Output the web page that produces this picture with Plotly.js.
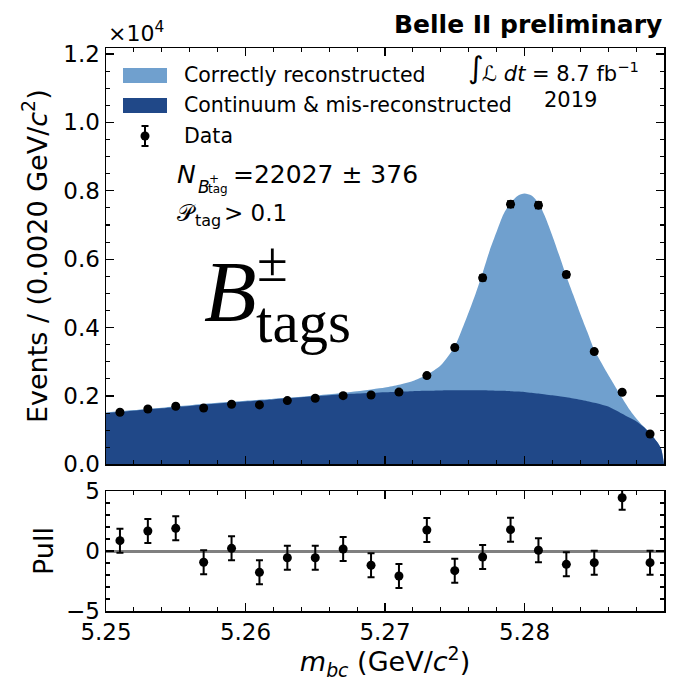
<!DOCTYPE html>
<html><head><meta charset="utf-8">
<script src="https://cdn.plot.ly/plotly-3.0.1.min.js"></script>
<style>html,body{margin:0;padding:0;background:#fff}#chart{width:673px;height:681px}</style>
</head><body><div id="chart"></div>
<script>
// ---- data ----
const binCenters = [5.251, 5.253, 5.255, 5.257, 5.259, 5.261, 5.263, 5.265, 5.267, 5.269,
                    5.271, 5.273, 5.275, 5.277, 5.279, 5.281, 5.283, 5.285, 5.287, 5.289];
const eventCounts = [1525, 1620, 1700, 1650, 1760, 1740, 1865, 1935, 2010, 2030,
                     2115, 2596, 3415, 5455, 7610, 7580, 5550, 3298, 2110, 890];
const eventErrors = [39, 40, 41, 41, 42, 42, 43, 44, 45, 45,
                     46, 51, 58, 74, 87, 87, 74, 57, 46, 30];
const pullValues = [0.86, 1.67, 1.89, -0.94, 0.22, -1.78, -0.56, -0.56, 0.17, -1.19,
                    -2.08, 1.75, -1.64, -0.50, 1.78, 0.06, -1.11, -0.97, 4.44, -0.97];
const pullErrors = [1, 1, 1, 1, 1, 1, 1, 1, 1, 1, 1, 1, 1, 1, 1, 1, 1, 1, 1, 1];

const fitX = [5.250, 5.252, 5.254, 5.256, 5.258, 5.260, 5.262, 5.264, 5.266, 5.268,
              5.270, 5.271, 5.272, 5.273, 5.274, 5.275, 5.2755, 5.276, 5.2765, 5.277,
              5.2775, 5.278, 5.2785, 5.279, 5.2795, 5.280, 5.2805, 5.281, 5.2815, 5.282,
              5.2825, 5.283, 5.2835, 5.284, 5.2845, 5.285, 5.2855, 5.286, 5.2865, 5.287,
              5.2875, 5.288, 5.2885, 5.289, 5.2895, 5.2898, 5.290];
const totalFit = [1520, 1590, 1660, 1730, 1800, 1860, 1920, 1980, 2050, 2140,
                  2250, 2330, 2440, 2620, 2900, 3450, 3930, 4450, 5000, 5600,
                  6250, 6800, 7320, 7640, 7850, 7920, 7860, 7640, 7220, 6680,
                  6100, 5500, 4950, 4400, 3880, 3350, 2980, 2620, 2280, 1940,
                  1620, 1350, 1120, 920, 660, 450, 0];
const backgroundFit = [1500, 1570, 1640, 1710, 1780, 1840, 1900, 1960, 2020, 2070,
                       2110, 2125, 2140, 2150, 2160, 2165, 2165, 2165, 2165, 2165,
                       2160, 2155, 2150, 2140, 2130, 2120, 2095, 2070, 2045, 2020,
                       1990, 1960, 1925, 1890, 1850, 1800, 1750, 1690, 1590, 1480,
                       1370, 1260, 1110, 920, 660, 450, 0];

const yTickVals = [0, 2000, 4000, 6000, 8000, 10000, 12000];
const yTickText = ['0.0', '0.2', '0.4', '0.6', '0.8', '1.0', '1.2'];
const pullTickVals = [-5, 0, 5];
const xRange = [5.25, 5.29];
const yRange = [0, 12176];
const pullRange = [-5, 5];

const legendLabels = ['Correctly reconstructed', 'Continuum & mis-reconstructed', 'Data'];

// ---- styling ----
const LIGHT = '#70a0ce', DARK = '#204888';
const FONT = 'DejaVu Sans';
const W = 673, H = 681, ML = 106, MR = 9, MT = 48, MB = 70;
const PW = W - ML - MR, PH = H - MT - MB;
const px = x => (x - ML) / PW;
const py = y => (H - MB - y) / PH;

const traces = [
  {x: fitX, y: totalFit, type: 'scatter', mode: 'lines', fill: 'tozeroy',
   fillcolor: LIGHT, line: {width: 0, color: LIGHT, shape: 'spline', smoothing: 0.7},
   xaxis: 'x', yaxis: 'y', hoverinfo: 'skip', showlegend: false},
  {x: fitX, y: backgroundFit, type: 'scatter', mode: 'lines', fill: 'tozeroy',
   fillcolor: DARK, line: {width: 0, color: DARK, shape: 'spline', smoothing: 0.7},
   xaxis: 'x', yaxis: 'y', hoverinfo: 'skip', showlegend: false},
  {x: binCenters, y: eventCounts, type: 'scatter', mode: 'markers',
   marker: {color: 'black', size: 9},
   error_y: {type: 'data', array: eventErrors, color: 'black', thickness: 2, width: 3.5},
   xaxis: 'x', yaxis: 'y', showlegend: false},
  {x: binCenters, y: pullValues, type: 'scatter', mode: 'markers',
   marker: {color: 'black', size: 9},
   error_y: {type: 'data', array: pullErrors, color: 'black', thickness: 2, width: 3.5},
   xaxis: 'x2', yaxis: 'y2', showlegend: false}
];

const axisCommon = {
  showline: true, linecolor: 'black', linewidth: 1.5, mirror: 'allticks',
  ticks: 'inside', ticklen: 8, tickwidth: 1.3, tickcolor: 'black',
  showgrid: false, zeroline: false,
  tickfont: {family: FONT, size: 23, color: 'black'}
};

const ann = [];
function addText(text, x, y, size, opts) {
  ann.push(Object.assign({text: text, x: px(x), y: py(y), xref: 'paper', yref: 'paper',
    showarrow: false, xanchor: 'left', yanchor: 'middle',
    font: {family: FONT, size: size, color: 'black'}}, opts || {}));
}
addText('×10<sup>4</sup>', 106, 32, 22);
addText('<b>Belle II preliminary</b>', 664, 25, 25, {xanchor: 'right'});
addText('∫', 466, 68, 30);
addText('ℒ <i>dt</i> = 8.7 fb<sup>−1</sup>', 480, 72, 21);
addText('2019', 570, 100, 21, {xanchor: 'center'});
addText(legendLabels[0], 182, 75, 20.5);
addText(legendLabels[1], 182, 105, 20.5);
addText(legendLabels[2], 182, 136, 20.5);
addText('<i>N</i>', 175, 174, 25);
addText('<i>B</i>', 196, 187, 17);
addText('+', 207, 179, 12);
addText('tag', 206, 189, 12);
addText('=22027 ± 376', 231, 174, 25);
addText('𝒫', 175, 213, 23);
addText('tag', 193, 221, 16);
addText('> 0.1', 222, 213, 23);
addText('<i>B</i>', 202, 292, 86, {font: {family: 'Liberation Serif', size: 86, color: 'black'}});
addText('±', 255, 262, 56, {font: {family: 'Liberation Serif', size: 56, color: 'black'}});
addText('tags', 254, 322, 59, {font: {family: 'Liberation Serif', size: 59, color: 'black'}});

const shapes = [
  {type: 'rect', xref: 'paper', yref: 'paper', x0: px(123), x1: px(167), y0: py(68), y1: py(83),
   fillcolor: LIGHT, line: {width: 0}},
  {type: 'rect', xref: 'paper', yref: 'paper', x0: px(123), x1: px(167), y0: py(98), y1: py(113),
   fillcolor: DARK, line: {width: 0}},
  {type: 'line', xref: 'paper', yref: 'paper', x0: px(145), x1: px(145), y0: py(126), y1: py(146),
   line: {color: 'black', width: 2}},
  {type: 'line', xref: 'paper', yref: 'paper', x0: px(141.5), x1: px(148.5), y0: py(126), y1: py(126),
   line: {color: 'black', width: 2}},
  {type: 'line', xref: 'paper', yref: 'paper', x0: px(141.5), x1: px(148.5), y0: py(146), y1: py(146),
   line: {color: 'black', width: 2}},
  {type: 'circle', xref: 'paper', yref: 'paper', x0: px(140.5), x1: px(149.5), y0: py(131.5), y1: py(140.5),
   fillcolor: 'black', line: {width: 0}}
];

const layout = {
  width: W, height: H,
  margin: {l: ML, r: MR, t: MT, b: MB, pad: 0},
  paper_bgcolor: 'white', plot_bgcolor: 'white',
  font: {family: FONT, color: 'black'},
  showlegend: false,
  xaxis: Object.assign({}, axisCommon, {
    domain: [0, 1], anchor: 'y', range: xRange, tick0: 5.25, dtick: 0.01,
    showticklabels: false,
    minor: {ticks: 'inside', dtick: 0.002, tick0: 5.25, ticklen: 4, tickwidth: 1.1, tickcolor: 'black'}
  }),
  yaxis: Object.assign({}, axisCommon, {
    domain: [py(464.4), 1], anchor: 'x', range: yRange,
    tickmode: 'array', tickvals: yTickVals, ticktext: yTickText,
    minor: {ticks: 'inside', tickmode: 'linear', tick0: 0, dtick: 500, ticklen: 4, tickwidth: 1.1, tickcolor: 'black'},
    title: {text: 'Events / (0.0020 GeV/<i>c</i><sup>2</sup>)', font: {family: FONT, size: 27, color: 'black'}, standoff: 8}
  }),
  xaxis2: Object.assign({}, axisCommon, {
    domain: [0, 1], anchor: 'y2', range: xRange, matches: 'x', tick0: 5.25, dtick: 0.01,
    tickformat: '.2f',
    minor: {ticks: 'inside', dtick: 0.002, tick0: 5.25, ticklen: 4, tickwidth: 1.1, tickcolor: 'black'},
    title: {text: '<i>m</i><sub><i>bc</i></sub> (GeV/<i>c</i><sup>2</sup>)', font: {family: FONT, size: 27, color: 'black'}, standoff: 14}
  }),
  yaxis2: Object.assign({}, axisCommon, {
    domain: [0, py(491)], anchor: 'x2', range: pullRange,
    tickmode: 'array', tickvals: pullTickVals,
    zeroline: true, zerolinecolor: '#808080', zerolinewidth: 3,
    minor: {ticks: 'inside', tickmode: 'linear', tick0: 0, dtick: 1, ticklen: 4, tickwidth: 1.1, tickcolor: 'black'},
    title: {text: 'Pull', font: {family: FONT, size: 27, color: 'black'}, standoff: 4}
  }),
  annotations: ann,
  shapes: shapes
};

Plotly.newPlot('chart', traces, layout, {displayModeBar: false, staticPlot: true});
</script></body></html>
